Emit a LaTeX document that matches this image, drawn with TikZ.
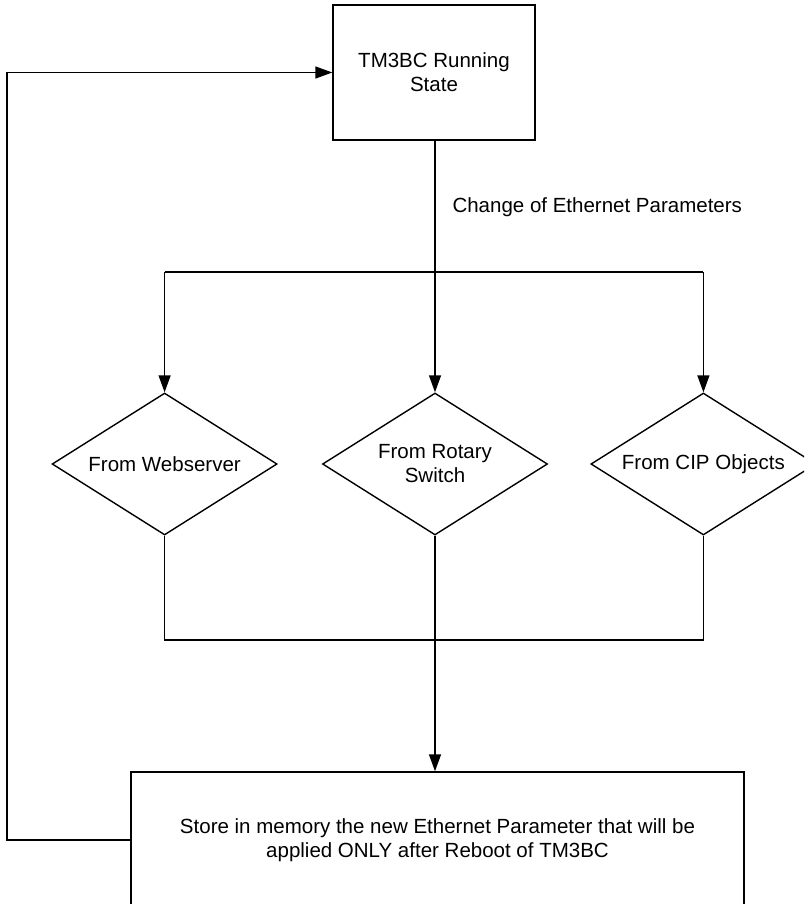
\documentclass[tikz,border=0pt]{standalone}
\usepackage{fontspec}
\setmainfont{Liberation Sans}
\usepackage{tikz}
\usetikzlibrary{arrows.meta,shapes,positioning}
\tikzstyle{arrow} = [line width=1.4pt,-{Triangle[length=17pt,width=12pt]}]
\tikzstyle{wire} = [line width=1.4pt]
\tikzstyle{statebox} = [rectangle, draw, line width=1.4pt, minimum width=202pt, minimum height=135pt, align=center]
\tikzstyle{choice} = [diamond, draw, line width=1.4pt, minimum width=225pt, minimum height=142pt, shape aspect=1.58, inner sep=0pt, align=center]

\begin{document}
\begin{tikzpicture}[
    x=1pt, y=-1pt,
    every node/.style={font=\fontsize{20.5}{24}\selectfont}
]
\useasboundingbox (0,0) rectangle (804,904);
\clip (0,0) rectangle (804,904);

% Running state
\node[statebox] (run) at (434,72.5) {TM3BC Running\\State};

% Sources of the change
\node[choice] (rotary) at (435,464) {From Rotary\\Switch};
\node[choice, left=44pt of rotary] (web) {From Webserver};
\node[choice, right=42pt of rotary] (cip) {From CIP Objects};

% Store box
\node[statebox, minimum width=613pt, minimum height=136pt] (store) at (437.5,840) {Store in memory the new Ethernet Parameter that will be\\applied ONLY after Reboot of TM3BC};

% Helper points
\coordinate (split) at (435,272);
\coordinate (merge) at (435,640);
\coordinate (back) at (7,0);

% Label
\node[anchor=west] (change) at (449,207) {Change of Ethernet Parameters};

% Connections
\draw[arrow] (run.south -| rotary) -- (rotary.north);
\draw[wire] (web.north |- split) -- (cip.north |- split);
\draw[arrow] (web.north |- split) -- (web.north);
\draw[arrow] (cip.north |- split) -- (cip.north);
\draw[wire] (web.south) -- (web.south |- merge) -- (cip.south |- merge) -- (cip.south);
\draw[wire] (rotary.south) -- (merge);
\draw[arrow] (merge) -- (merge |- store.north);
\draw[arrow] (store.west) -- (back |- store.west) -- (back |- run.west) -- (run.west);

\end{tikzpicture}
\end{document}
